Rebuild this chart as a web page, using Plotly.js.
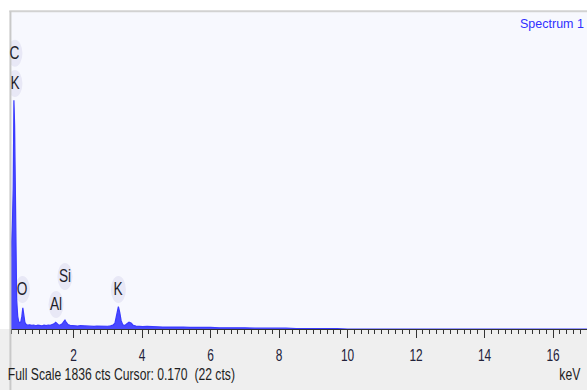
<!DOCTYPE html>
<html>
<head>
<meta charset="utf-8">
<script src="https://cdn.plot.ly/plotly-3.0.1.min.js"></script>
<style>
  html, body { margin: 0; padding: 0; background: #ffffff; }
  #chart { width: 587px; height: 390px; }
</style>
</head>
<body>
<div id="chart"></div>
<script>
// Energy (keV) and counts
const energy = [0.175,0.20,0.22,0.24,0.26,0.28,0.30,0.32,0.34,0.37,0.40,0.43,0.46,0.49,0.52,0.55,0.58,0.62,0.67,0.72,
  0.78,0.84,0.90,0.96,1.02,1.08,1.14,1.20,1.26,1.32,1.38,1.43,1.48,1.52,1.57,1.62,1.67,1.71,1.75,1.79,
  1.84,1.90,1.96,2.04,2.12,2.20,2.28,2.36,2.44,2.52,2.60,2.68,2.76,2.84,2.92,3.00,3.08,3.15,3.21,3.26,
  3.31,3.35,3.39,3.44,3.50,3.56,3.62,3.68,3.74,3.82,3.92,4.02,4.15,4.30,4.45,4.60,4.80,5.00,5.20,5.40,
  5.60,5.80,6.00,6.25,6.50,6.75,7.00,7.30,7.60,7.90,8.20,8.50,8.80,9.10,9.40,9.70,10.0,17.0];
const counts = [420,520,640,820,1325,1180,880,420,170,75,42,36,40,70,122,80,38,26,22,24,
  21,23,19,22,20,18,22,20,23,21,26,30,39,30,22,24,30,42,52,38,
  25,21,19,20,17,19,18,16,18,17,15,17,16,15,17,16,18,22,34,80,
  129,95,48,24,20,30,39,34,22,17,15,14,15,12,13,11,12,10,11,9,
  10,8,9,7,8,6,7,5,6,4,5,3,4,2,3,2,0,0];

// Peak labels
const peakLabels = ['C','K','O','Al','Si','K'];
const labelEnergy = [0.29,0.29,0.51,1.49,1.75,3.31];
const labelCounts = [1600,1425,232,145,307,232];

const tickValues = [2,4,6,8,10,12,14,16];
const tickText = ['2','4','6','8','10','12','14','16'];
const fullScale = 1836;
const xRange = [0.175, 16.99];

const FONT = "'Liberation Sans', Arial, sans-serif";

const trace = {
  type: 'scatter',
  mode: 'lines',
  x: energy,
  y: counts,
  fill: 'tozeroy',
  fillcolor: 'rgba(58,58,255,0.92)',
  line: { color: '#3a3aff', width: 1.2 },
  hoverinfo: 'skip'
};

const shapes = [
  { type: 'rect', xref: 'paper', yref: 'paper', x0: -0.05, x1: 1.05, y0: -0.25, y1: 0,
    fillcolor: '#efefef', line: { width: 0 }, layer: 'below' },
  { type: 'line', xref: 'paper', yref: 'paper', x0: -0.003, x1: 1.05, y0: 1.002, y1: 1.002,
    line: { color: '#d2d2d2', width: 2 } },
  { type: 'line', xref: 'paper', yref: 'paper', x0: -0.001, x1: -0.001, y0: -0.25, y1: 1.002,
    line: { color: '#c9c9c9', width: 2 } }
];

const annotations = [];
for (let i = 0; i < peakLabels.length; i++) {
  shapes.push({
    type: 'circle', xref: 'x', yref: 'y',
    xsizemode: 'pixel', ysizemode: 'pixel',
    xanchor: labelEnergy[i], yanchor: labelCounts[i],
    x0: -7.5, x1: 7.5, y0: -14, y1: 13,
    fillcolor: '#e8e8f6', line: { width: 0 }, layer: 'below'
  });
  annotations.push({
    xref: 'x', yref: 'y', x: labelEnergy[i], y: labelCounts[i],
    text: peakLabels[i], showarrow: false,
    font: { family: FONT, size: 18, color: '#1e1e2a' },
    xanchor: 'center', yanchor: 'middle'
  });
}

annotations.push({
  xref: 'paper', yref: 'paper', x: 0.9392, y: 0.962, xanchor: 'center', yanchor: 'middle',
  text: 'Spectrum 1', showarrow: false,
  font: { family: FONT, size: 12.5, color: '#3030ff' }
});
annotations.push({
  xref: 'paper', yref: 'paper', x: 0.191, y: 0, xanchor: 'center', yanchor: 'middle',
  yshift: -45,
  text: 'Full Scale ' + fullScale + ' cts Cursor: 0.170&nbsp;&nbsp;(22 cts)', showarrow: false,
  font: { family: FONT, size: 16, color: '#1e1e1e' }
});
annotations.push({
  xref: 'paper', yref: 'paper', x: 0.971, y: 0, xanchor: 'center', yanchor: 'middle',
  yshift: -45,
  text: 'keV', showarrow: false,
  font: { family: FONT, size: 16, color: '#1e1e1e' }
});

const layout = {
  width: 587, height: 390,
  margin: { l: 11, r: 0, t: 12, b: 61, pad: 0 },
  paper_bgcolor: '#ffffff',
  plot_bgcolor: '#f7f8fe',
  showlegend: false,
  xaxis: {
    range: xRange,
    tickvals: tickValues, ticktext: tickText,
    ticks: 'outside', ticklen: 8, tickwidth: 1, tickcolor: '#333333',
    minor: { dtick: 0.2, ticks: 'outside', ticklen: 4, tickwidth: 1, tickcolor: '#333333' },
    showline: true, linecolor: '#333333', linewidth: 1,
    showgrid: false, zeroline: false,
    ticklabelstandoff: 3,
    tickfont: { family: FONT, size: 17, color: '#22223a' }
  },
  yaxis: {
    range: [0, fullScale],
    visible: false, showgrid: false, zeroline: false
  },
  shapes: shapes,
  annotations: annotations
};

function squeeze(t, f) {
  const w = t.getComputedTextLength();
  if (w > 0) {
    t.setAttribute('textLength', (w * f).toFixed(2));
    t.setAttribute('lengthAdjust', 'spacingAndGlyphs');
  }
}

Plotly.newPlot('chart', [trace], layout, { staticPlot: true, displayModeBar: false }).then(function (gd) {
  gd.querySelectorAll('.xtick text').forEach(function (t) { squeeze(t, 0.7); });
  gd.querySelectorAll('.annotation-text').forEach(function (t) {
    if (t.textContent !== 'Spectrum 1') squeeze(t, 0.76);
  });
});
</script>
</body>
</html>
